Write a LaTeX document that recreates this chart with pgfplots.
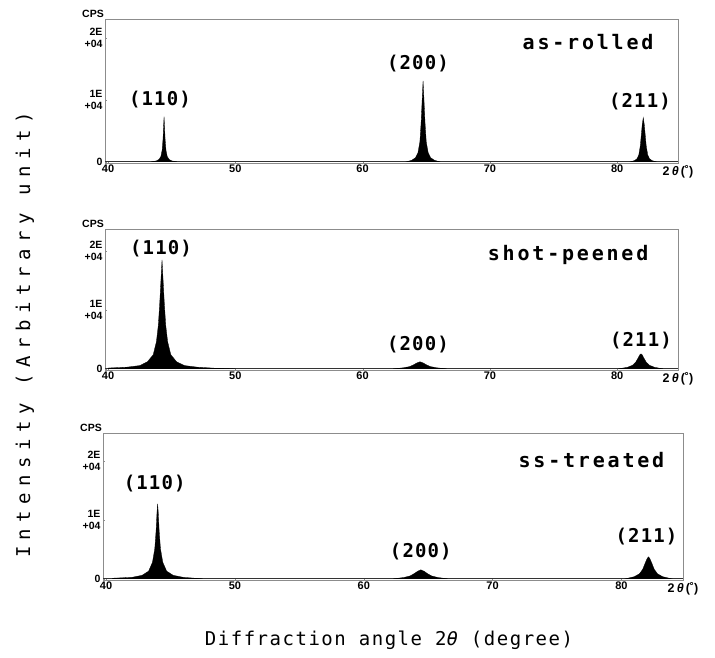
\documentclass[border=0pt]{standalone}
\usepackage{fontspec}
\setmainfont{Liberation Sans}
\newfontfamily\hklfont[LetterSpace=6]{DejaVu Sans Mono}
\newfontfamily\samplefont[LetterSpace=14]{DejaVu Sans Mono}
\newfontfamily\xlabfont[LetterSpace=8]{DejaVu Sans Mono}
\newfontfamily\ylabfont[LetterSpace=34]{DejaVu Sans Mono}
\usepackage{pgfplots}
\pgfplotsset{compat=1.18}

\pgfplotsset{
  xrd/.style={
    scale only axis, anchor=south west,
    width=573pt,
    xmin=39.76, xmax=84.78, ymin=-200,
    xtick={40,50,60,70,80}, xticklabels={40,50,60,70,80},
    ytick={0,10000,20000}, scaled y ticks=false,
    yticklabels={0,{1E\\+04},{2E\\+04}},
    yticklabel style={align=right, font=\bfseries\fontsize{10.5}{11.5}\selectfont, xshift=1pt},
    xticklabel style={font=\bfseries\fontsize{11}{12}\selectfont, yshift=2pt},
    xtick pos=bottom, ytick pos=left,
    axis line style={black!45, line width=0.6pt},
    major tick length=2pt, tick style={black!45},
    clip=false,
  },
  peak/.style={fill=black, draw=black, line width=0.3pt},
  base/.style={black!80, line width=0.8pt},
}
\newcommand{\hkl}[1]{{\hklfont\bfseries\fontsize{19}{19}\selectfont #1}}
\newcommand{\sample}[1]{{\samplefont\bfseries\fontsize{20}{20}\selectfont #1}}
\newcommand{\panelextras}{%
  \node[anchor=south east, font=\bfseries\fontsize{10.5}{11}\selectfont, inner sep=1pt]
    at (rel axis cs:0,1) {CPS};
  \node[anchor=north, font=\bfseries\fontsize{12.5}{13}\selectfont, inner sep=1pt, yshift=-1pt]
    at (rel axis cs:1,0) {2\,{\itshape θ}\,(˚)};
}

\begin{document}
\begin{tikzpicture}
\useasboundingbox (0,0) rectangle (715pt,658pt);

% as-rolled
\begin{axis}[xrd, at={(105pt,495pt)}, height=144pt, ymax=23026]
\addplot[base] coordinates {(39.76,0) (84.78,0)};
\addplot[peak] coordinates {
  (43.4,0) (43.8,140) (44.0,370) (44.15,840) (44.25,1860) (44.32,3700) (44.36,5600)
  (44.4,7260) (44.44,5600) (44.48,3700) (44.55,1860) (44.65,840) (44.8,370) (45.0,140) (45.4,0)
} \closedcycle;
\addplot[peak] coordinates {
  (63.45,0) (63.85,230) (64.15,640) (64.35,1470) (64.5,3200) (64.6,6400) (64.67,9600)
  (64.75,13060) (64.83,9600) (64.9,6400) (65.0,3200) (65.15,1470) (65.35,640) (65.65,230) (66.05,0)
} \closedcycle;
\addplot[peak] coordinates {
  (81.05,0) (81.35,180) (81.55,460) (81.7,1100) (81.82,2600) (81.9,4400) (81.97,6000)
  (82.05,7100) (82.13,6000) (82.2,4400) (82.28,2600) (82.4,1100) (82.55,460) (82.75,180) (83.05,0)
} \closedcycle;
\node at (axis cs:44.08,10000) {\hkl{(110)}};
\node at (axis cs:64.35,15810) {\hkl{(200)}};
\node at (axis cs:81.79,9680) {\hkl{(211)}};
\node[anchor=east] at (axis cs:83.13,19350) {\sample{as-rolled}};
\panelextras
\end{axis}

% shot-peened
\begin{axis}[xrd, at={(105pt,288pt)}, height=141pt, ymax=23700]
\addplot[base] coordinates {(39.76,0) (84.78,0)};
\addplot[peak] coordinates {
  (40.0,130) (41.5,280) (42.5,550) (43.1,1200) (43.55,2400) (43.8,4600) (43.95,7400)
  (44.06,11100) (44.16,15200) (44.24,18470) (44.32,15200) (44.42,11100) (44.53,7400)
  (44.68,4600) (44.93,2400) (45.38,1200) (46.0,550) (47.0,280) (48.5,90) (50.0,0)
} \closedcycle;
\addplot[peak] coordinates {
  (62.4,0) (63.2,170) (63.7,380) (64.0,670) (64.27,1000) (64.51,1190) (64.75,1000)
  (65.02,670) (65.32,380) (65.82,170) (66.6,0)
} \closedcycle;
\addplot[peak] coordinates {
  (80.1,0) (80.8,250) (81.2,600) (81.45,1100) (81.65,1850) (81.78,2380) (81.87,2540)
  (81.96,2380) (82.09,1850) (82.29,1100) (82.54,600) (82.94,250) (83.6,0)
} \closedcycle;
\node at (axis cs:44.16,20340) {\hkl{(110)}};
\node at (axis cs:64.35,4070) {\hkl{(200)}};
\node at (axis cs:81.87,4750) {\hkl{(211)}};
\node[anchor=east] at (axis cs:82.73,19320) {\sample{shot-peened}};
\panelextras
\end{axis}

% ss-treated
\begin{axis}[xrd, at={(103pt,78pt)}, width=580pt, height=147pt, ymax=24715]
\addplot[base] coordinates {(39.76,0) (84.78,0)};
\addplot[peak] coordinates {
  (40.5,100) (42.0,250) (42.8,600) (43.3,1300) (43.6,2800) (43.78,5100) (43.88,8100)
  (43.95,11200) (44.0,12710) (44.05,11200) (44.12,8100) (44.22,5100) (44.4,2800)
  (44.7,1300) (45.2,600) (46.0,250) (47.5,0)
} \closedcycle;
\addplot[peak] coordinates {
  (62.3,0) (63.1,220) (63.6,490) (63.9,860) (64.18,1280) (64.43,1525) (64.68,1280)
  (64.96,860) (65.26,490) (65.76,220) (66.5,0)
} \closedcycle;
\addplot[peak] coordinates {
  (80.3,0) (81.0,360) (81.4,850) (81.65,1600) (81.85,2700) (82.0,3450) (82.1,3730)
  (82.2,3450) (82.35,2700) (82.55,1600) (82.8,850) (83.2,360) (83.9,0)
} \closedcycle;
\node at (axis cs:43.77,16100) {\hkl{(110)}};
\node at (axis cs:64.43,4580) {\hkl{(200)}};
\node at (axis cs:81.95,7120) {\hkl{(211)}};
\node[anchor=east] at (axis cs:83.6,20170) {\sample{ss-treated}};
\panelextras
\end{axis}

\node[rotate=90, font=\ylabfont\fontsize{19}{19}\selectfont] at (25pt,323pt) {Intensity (Arbitrary unit)};
\node[font=\xlabfont\fontsize{19}{19}\selectfont] at (389pt,18pt) {Diffraction angle 2{\itshape θ} (degree)};
\end{tikzpicture}
\end{document}
